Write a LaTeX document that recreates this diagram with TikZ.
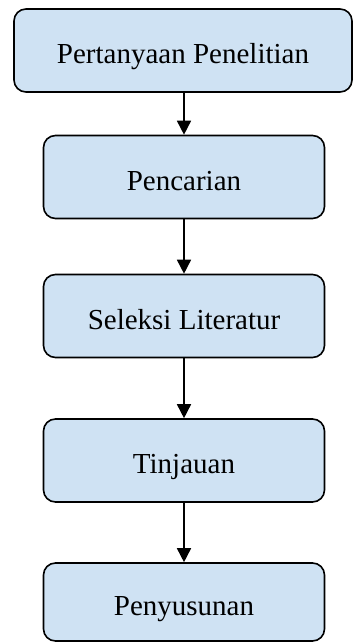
\documentclass[tikz,border=0pt]{standalone}
\usepackage{fontspec}
\setmainfont{Liberation Serif}
\usetikzlibrary{arrows.meta}
\definecolor{boxblue}{RGB}{207,226,243}
\tikzset{
    stepbox/.style={draw, line width=1.6pt, rounded corners=12pt, fill=boxblue,
        minimum height=83pt, text height=27pt, text depth=0pt,
        align=center, font=\fontsize{29}{34}\selectfont},
    flow/.style={line width=1.6pt, -{Triangle[width=14pt,length=14pt]}}
}
\begin{document}
\begin{tikzpicture}[x=1pt,y=1pt]

    \useasboundingbox (0,0) rectangle (353,642);

    \node [stepbox, minimum width=338pt] (tanya) at (183,591.5) {Pertanyaan Penelitian};
    \node [stepbox, minimum width=281pt] (cari) at (184,465) {Pencarian};
    \node [stepbox, minimum width=281pt] (seleksi) at (184,326) {Seleksi Literatur};
    \node [stepbox, minimum width=281pt] (tinjau) at (184,181.5) {Tinjauan};
    \node [stepbox, minimum width=281pt, minimum height=78pt] (susun) at (184,40) {Penyusunan};

    \draw [flow] (tanya.south -| cari.north) -- (cari.north);
    \draw [flow] (cari) -- (seleksi);
    \draw [flow] (seleksi) -- (tinjau);
    \draw [flow] (tinjau) -- (susun);

\end{tikzpicture}
\end{document}
